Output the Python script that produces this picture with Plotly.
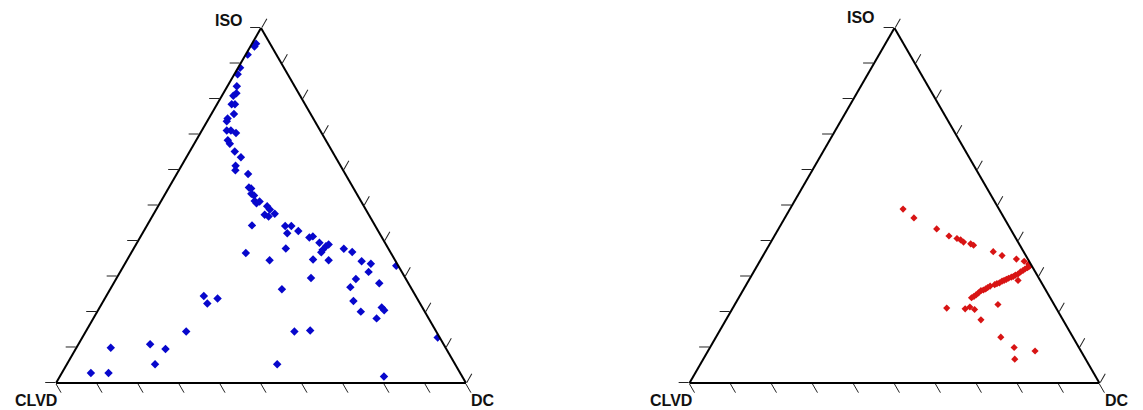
import plotly.graph_objects as go

# Left panel (blue): ternary fractions ISO / CLVD / DC
left_iso = [0.956, 0.948, 0.925, 0.888, 0.870, 0.836, 0.816, 0.809, 0.785, 0.785,
            0.758, 0.745, 0.737, 0.711, 0.711, 0.704, 0.684, 0.674, 0.652, 0.636,
            0.612, 0.599, 0.589, 0.551, 0.548, 0.533, 0.528, 0.513, 0.506, 0.511,
            0.498, 0.489, 0.474, 0.469, 0.477, 0.444, 0.442, 0.442, 0.422, 0.428,
            0.410, 0.413, 0.395, 0.375, 0.385, 0.390, 0.368, 0.379, 0.366, 0.346,
            0.348, 0.346, 0.378, 0.369, 0.343, 0.336, 0.313, 0.330, 0.296, 0.293,
            0.270, 0.281, 0.264, 0.245, 0.224, 0.238, 0.231, 0.213, 0.205, 0.201,
            0.182, 0.145, 0.145, 0.148, 0.128, 0.099, 0.109, 0.096, 0.053, 0.053,
            0.028, 0.028, 0.018]
left_clvd = [0.034, 0.042, 0.070, 0.107, 0.122, 0.141, 0.152, 0.163, 0.179, 0.171,
             0.187, 0.209, 0.215, 0.228, 0.218, 0.209, 0.239, 0.239, 0.238, 0.231,
             0.256, 0.263, 0.237, 0.254, 0.250, 0.257, 0.253, 0.259, 0.258, 0.248,
             0.236, 0.234, 0.254, 0.247, 0.228, 0.300, 0.220, 0.205, 0.225, 0.195,
             0.177, 0.167, 0.160, 0.162, 0.149, 0.140, 0.169, 0.250, 0.354, 0.306,
             0.199, 0.162, 0.109, 0.093, 0.083, 0.064, 0.081, 0.005, 0.230, 0.122,
             0.147, 0.071, 0.317, 0.517, 0.519, 0.487, 0.159, 0.099, 0.097, 0.156,
             0.127, 0.610, 0.346, 0.306, 0.005, 0.817, 0.716, 0.685, 0.732, 0.434,
             0.901, 0.858, 0.191]
left_dc = [0.010, 0.010, 0.005, 0.005, 0.008, 0.023, 0.032, 0.028, 0.036, 0.044,
           0.055, 0.046, 0.048, 0.061, 0.071, 0.087, 0.077, 0.087, 0.110, 0.133,
           0.132, 0.138, 0.174, 0.195, 0.202, 0.210, 0.219, 0.228, 0.236, 0.241,
           0.266, 0.277, 0.272, 0.284, 0.295, 0.256, 0.338, 0.353, 0.353, 0.377,
           0.413, 0.420, 0.445, 0.463, 0.466, 0.470, 0.463, 0.371, 0.280, 0.348,
           0.453, 0.492, 0.513, 0.538, 0.574, 0.600, 0.606, 0.665, 0.474, 0.585,
           0.583, 0.648, 0.419, 0.238, 0.257, 0.275, 0.610, 0.688, 0.698, 0.643,
           0.691, 0.245, 0.509, 0.546, 0.867, 0.084, 0.175, 0.219, 0.215, 0.513,
           0.071, 0.114, 0.791]

# Right panel (red)
right_iso = [0.490, 0.465, 0.434, 0.414, 0.407, 0.403, 0.397, 0.392, 0.388, 0.370,
             0.359, 0.349, 0.343, 0.331, 0.335, 0.328, 0.325, 0.321, 0.317, 0.313,
             0.307, 0.304, 0.300, 0.298, 0.295, 0.292, 0.289, 0.287, 0.282, 0.280,
             0.277, 0.273, 0.269, 0.265, 0.262, 0.260, 0.254, 0.248, 0.244, 0.240,
             0.289, 0.211, 0.209, 0.214, 0.207, 0.221, 0.178, 0.129, 0.100, 0.090,
             0.067]
right_clvd = [0.234, 0.220, 0.180, 0.160, 0.144, 0.137, 0.133, 0.118, 0.113, 0.074,
              0.058, 0.028, 0.012, 0.003, 0.005, 0.008, 0.013, 0.021, 0.028, 0.036,
              0.045, 0.053, 0.060, 0.066, 0.074, 0.081, 0.088, 0.094, 0.103, 0.110,
              0.117, 0.130, 0.138, 0.145, 0.152, 0.159, 0.168, 0.177, 0.184, 0.192,
              0.054, 0.267, 0.223, 0.209, 0.201, 0.137, 0.200, 0.176, 0.158, 0.112,
              0.173]
right_dc = [0.276, 0.315, 0.386, 0.426, 0.449, 0.460, 0.470, 0.490, 0.499, 0.556,
            0.583, 0.623, 0.645, 0.666, 0.660, 0.664, 0.662, 0.658, 0.655, 0.651,
            0.648, 0.643, 0.640, 0.636, 0.631, 0.627, 0.623, 0.619, 0.615, 0.610,
            0.606, 0.597, 0.593, 0.590, 0.586, 0.581, 0.578, 0.575, 0.572, 0.568,
            0.657, 0.522, 0.568, 0.577, 0.592, 0.642, 0.622, 0.695, 0.742, 0.798,
            0.760]

axis_titles = ["ISO", "CLVD", "DC"]

fig = go.Figure()
fig.add_trace(go.Scatterternary(
    a=left_iso, b=left_clvd, c=left_dc, mode="markers", subplot="ternary",
    marker=dict(symbol="diamond", size=6.5, color="#0707cc", line=dict(width=0)),
    showlegend=False, hoverinfo="a+b+c"))
fig.add_trace(go.Scatterternary(
    a=right_iso, b=right_clvd, c=right_dc, mode="markers", subplot="ternary2",
    marker=dict(symbol="diamond", size=5.5, color="#d81414", line=dict(width=0)),
    showlegend=False, hoverinfo="a+b+c"))

def axis():
    return dict(
        title=dict(text=""),
        showgrid=False, showticklabels=False, ticks="outside", ticklen=10,
        tickwidth=1, tickcolor="#222", tickmode="linear", tick0=0, dtick=0.1,
        linecolor="black", linewidth=2, min=0)

def ternary(xdom):
    return dict(domain=dict(x=xdom, y=[0.0854, 0.9512]), sum=1, bgcolor="white",
                aaxis=axis(), baxis=axis(), caxis=axis())

label_font = dict(family="Liberation Sans, Arial, sans-serif", size=16, color="#111")
label_pos = [  # (x, y) paper positions: ISO, CLVD, DC for each panel
    [(0.1934, 0.9707), (0.0245, 0.0415), (0.4160, 0.0415)],
    [(0.7463, 0.978), (0.580, 0.0415), (0.9705, 0.0415)],
]
annotations = []
for panel in label_pos:
    for title, (x, y) in zip(axis_titles, panel):
        annotations.append(dict(text="<b>%s</b>" % title, x=x, y=y, xref="paper", yref="paper",
                                xanchor="center", yanchor="middle", showarrow=False,
                                font=label_font))

fig.update_layout(
    width=1143, height=410,
    margin=dict(l=0, r=0, t=0, b=0),
    paper_bgcolor="white", plot_bgcolor="white",
    ternary=ternary([0.0420, 0.4007]),
    ternary2=ternary([0.5962, 0.9549]),
    annotations=annotations,
)

fig.write_html("out.html")
